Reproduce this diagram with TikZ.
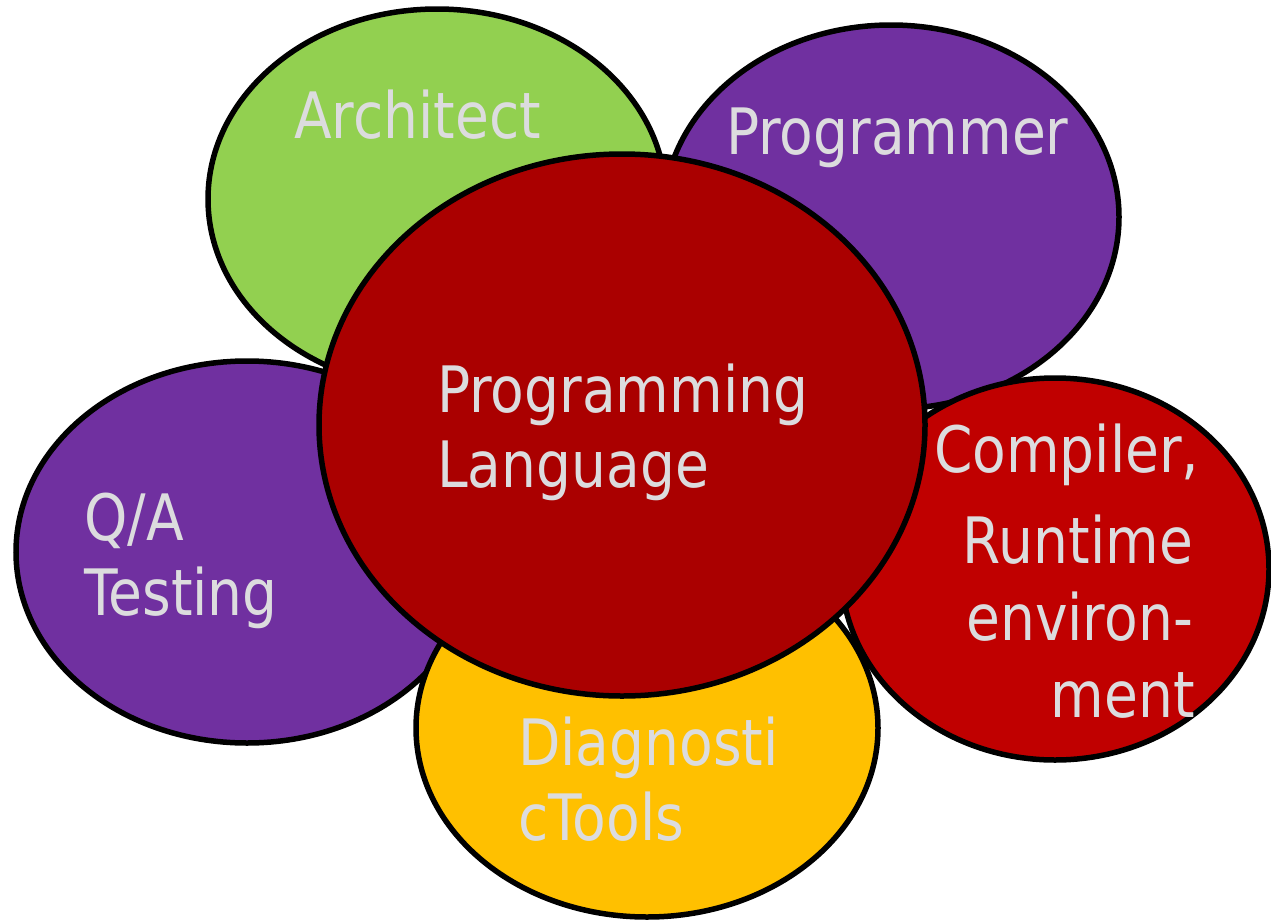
\documentclass[tikz,border=0pt]{standalone}
\usepackage{fontspec}
\setmainfont{DejaVu Sans}[FakeStretch=0.86]
\usetikzlibrary{shapes.geometric}
\definecolor{cgreen}{HTML}{92D050}
\definecolor{cpurple}{HTML}{7030A0}
\definecolor{cred}{HTML}{C00000}
\definecolor{cdark}{HTML}{AA0000}
\definecolor{cyellow}{HTML}{FFC000}
\definecolor{ctext}{HTML}{DCDCDE}
\tikzset{
  blob/.style={ellipse, draw=black, line width=5.5pt, inner sep=0pt},
  lbl/.style={inner sep=0pt, text=ctext, font=\fontsize{64}{77}\selectfont},
}
\begin{document}
\begin{tikzpicture}[x=1pt,y=-1pt]
\useasboundingbox (0,0) rectangle (1271,921);
\node[blob, fill=cgreen, minimum width=458pt, minimum height=380pt] (arch) at (437,199) {};
\node[blob, fill=cpurple, minimum width=456pt, minimum height=384pt] (prog) at (891,217) {};
\node[blob, fill=cred, minimum width=428pt, minimum height=382pt] (comp) at (1055,569) {};
\node[blob, fill=cpurple, minimum width=462pt, minimum height=382pt] (qa) at (247,552) {};
\node[blob, fill=cyellow, minimum width=462pt, minimum height=378pt] (diag) at (647,728) {};
\node[blob, fill=cdark, minimum width=606pt, minimum height=542pt] (lang) at (622,425) {};
% labels
\node[lbl, anchor=base west] (tarch) at (294,138) {Architect};
\node[lbl, anchor=base west] (tprog) at (726,154) {Programmer};
\node[lbl, anchor=base west] (tlang1) at (437,412) {Programming};
\node[lbl, anchor=base west] (tlang2) at (437,487) {Language};
\node[lbl, anchor=base west] (tcomp1) at (934,472) {Compiler,};
\node[lbl, anchor=base east] (tcomp2) at (1193,563) {Runtime};
\node[lbl, anchor=base east] (tcomp3) at (1193,640) {environ-};
\node[lbl, anchor=base east] (tcomp4) at (1195,717) {ment};
\node[lbl, anchor=base west] (tqa1) at (84,540) {Q/A};
\node[lbl, anchor=base west] (tqa2) at (84,615) {Testing};
\node[lbl, anchor=base west] (tdiag1) at (518,765) {Diagnosti};
\node[lbl, anchor=base west] (tdiag2) at (518,840) {cTools};
\end{tikzpicture}
\end{document}
